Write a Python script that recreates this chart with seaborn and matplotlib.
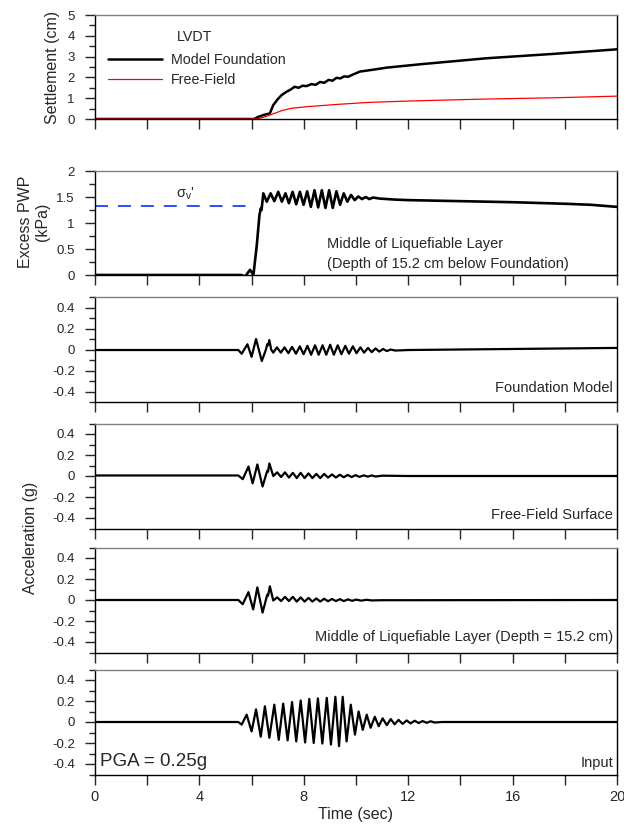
import matplotlib
matplotlib.use("Agg")
import matplotlib.pyplot as plt
import seaborn as sns
import numpy as np
import pandas as pd
from matplotlib.ticker import MultipleLocator

# ---- settlement (cm)
fnd_settle_t = [0, 6.1, 6.25, 6.45, 6.7, 6.83, 7.0, 7.15, 7.34, 7.5, 7.65, 7.8, 7.95, 8.1, 8.3,
                8.45, 8.62, 8.78, 8.95, 9.1, 9.25, 9.4, 9.55, 9.7, 9.85, 10.15, 10.6, 11.18,
                12.45, 15.0, 17.56, 20]
fnd_settle = [0, 0, 0.1, 0.19, 0.27, 0.67, 0.95, 1.15, 1.31, 1.42, 1.55, 1.5, 1.6, 1.58, 1.68,
              1.64, 1.78, 1.74, 1.88, 1.84, 1.98, 1.95, 2.05, 2.03, 2.12, 2.28, 2.36, 2.47,
              2.63, 2.92, 3.13, 3.35]
ff_settle_t = [0, 6.2, 6.45, 6.7, 7.15, 7.5, 8.1, 9.26, 10.5, 12.45, 15.0, 17.6, 20]
ff_settle = [0, 0, 0.08, 0.19, 0.4, 0.51, 0.59, 0.7, 0.8, 0.88, 0.96, 1.02, 1.1]

# ---- excess pore pressure (kPa)
pwp_t = [0, 5.6, 5.75, 5.94, 6.07, 6.2, 6.3, 6.35, 6.38, 6.45, 6.58, 6.73, 6.87, 7.02, 7.16,
         7.3, 7.43, 7.57, 7.71, 7.85, 7.99, 8.13, 8.27, 8.41, 8.55, 8.69, 8.83, 8.97, 9.11,
         9.25, 9.39, 9.53, 9.67, 9.81, 9.95, 10.09, 10.23, 10.37, 10.51, 10.65, 10.9, 11.5,
         12.0, 14.0, 16.0, 18.0, 19.0, 20.0]
pwp = [0, 0, -0.03, 0.1, 0.0, 0.58, 1.15, 1.28, 1.25, 1.57, 1.41, 1.57, 1.42, 1.6, 1.41,
       1.57, 1.38, 1.6, 1.36, 1.6, 1.35, 1.61, 1.31, 1.63, 1.3, 1.63, 1.29, 1.63, 1.29,
       1.61, 1.35, 1.57, 1.41, 1.54, 1.44, 1.51, 1.46, 1.5, 1.46, 1.49, 1.47, 1.45,
       1.44, 1.42, 1.40, 1.37, 1.35, 1.31]
sigma_v = 1.33
sigma_t = [0, 5.9]

# ---- accelerations (g), peaks and troughs
fnd_acc_t = [0, 5.49, 5.62, 5.84, 6.0, 6.17, 6.39, 6.55, 6.6, 6.63, 6.68, 6.75, 6.83, 6.97,
             7.12, 7.26, 7.41, 7.55, 7.7, 7.85, 7.99, 8.14, 8.28, 8.43, 8.57, 8.72, 8.86,
             9.01, 9.15, 9.3, 9.44, 9.59, 9.73, 9.88, 10.02, 10.17, 10.31, 10.46, 10.6,
             10.75, 10.89, 11.04, 11.18, 11.33, 11.5, 12.0, 14.0, 16.0, 18.0, 20.0]
fnd_acc = [-0.005, -0.005, -0.04, 0.05, -0.07, 0.1, -0.11, 0.0, 0.05, 0.04, 0.09, 0.0, -0.03,
           0.02, -0.03, 0.02, -0.035, 0.025, -0.04, 0.03, -0.045, 0.035, -0.05, 0.04, -0.05,
           0.04, -0.05, 0.045, -0.05, 0.04, -0.045, 0.035, -0.04, 0.03, -0.035, 0.02, -0.03,
           0.015, -0.025, 0.01, -0.02, 0.005, -0.015, 0.0, -0.01, -0.005, 0.0, 0.005, 0.01,
           0.015]

ffs_acc_t = [0, 5.49, 5.66, 5.88, 6.04, 6.22, 6.42, 6.6, 6.63, 6.68, 6.83, 6.98, 7.13, 7.28,
             7.43, 7.58, 7.73, 7.88, 8.03, 8.18, 8.33, 8.48, 8.63, 8.78, 8.93, 9.08, 9.23,
             9.38, 9.53, 9.68, 9.83, 9.98, 10.13, 10.3, 10.45, 10.6, 10.75, 11.0, 12.0, 20.0]
ffs_acc = [0.005, 0.005, -0.03, 0.09, -0.07, 0.11, -0.1, 0.05, 0.04, 0.12, 0.0, 0.035, -0.01,
           0.035, -0.015, 0.03, -0.02, 0.03, -0.02, 0.025, -0.02, 0.02, -0.02, 0.02, -0.015,
           0.015, -0.015, 0.012, -0.012, 0.01, -0.01, 0.008, -0.008, 0.006, -0.006, 0.005,
           -0.005, 0.003, 0.0, 0.0]

mid_acc_t = [0, 5.49, 5.66, 5.88, 6.06, 6.22, 6.42, 6.6, 6.63, 6.7, 6.83, 6.98, 7.13, 7.28,
             7.43, 7.58, 7.73, 7.88, 8.03, 8.18, 8.33, 8.48, 8.63, 8.78, 8.93, 9.08, 9.23,
             9.38, 9.53, 9.7, 9.85, 10.0, 10.2, 10.4, 10.6, 11.0, 12.0, 20.0]
mid_acc = [0.0, 0.0, -0.04, 0.075, -0.09, 0.12, -0.12, 0.05, 0.04, 0.13, -0.005, 0.025, -0.01,
           0.03, -0.01, 0.03, -0.015, 0.025, -0.015, 0.02, -0.015, 0.015, -0.015, 0.012,
           -0.012, 0.01, -0.01, 0.008, -0.01, 0.006, -0.008, 0.004, -0.006, 0.002, -0.004,
           -0.002, -0.002, 0.0]

inp_acc_t = [0, 5.49, 5.62, 5.81, 6.0, 6.17, 6.35, 6.51, 6.68, 6.87, 7.04, 7.21, 7.38, 7.55,
             7.71, 7.88, 8.05, 8.21, 8.38, 8.54, 8.71, 8.88, 9.04, 9.21, 9.35, 9.49, 9.64,
             9.8, 9.96, 10.1, 10.26, 10.41, 10.56, 10.72, 10.87, 11.02, 11.18, 11.33, 11.48,
             11.63, 11.79, 11.94, 12.09, 12.25, 12.4, 12.55, 12.71, 12.86, 13.01, 13.3, 20.0]
inp_acc = [0.0, 0.0, -0.025, 0.07, -0.09, 0.12, -0.14, 0.15, -0.15, 0.165, -0.17, 0.175,
           -0.175, 0.19, -0.185, 0.205, -0.195, 0.22, -0.2, 0.225, -0.205, 0.23, -0.215,
           0.24, -0.23, 0.24, -0.185, 0.165, -0.12, 0.1, -0.075, 0.07, -0.055, 0.05, -0.04,
           0.035, -0.03, 0.028, -0.022, 0.02, -0.018, 0.015, -0.013, 0.012, -0.01, 0.009,
           -0.008, 0.007, -0.005, 0.0, 0.0]

acc_labels = ["Foundation Model", "Free-Field Surface",
              "Middle of Liquefiable Layer (Depth = 15.2 cm)", "Input"]

sns.set_style("ticks")
plt.rcParams['font.family'] = ['Liberation Sans', 'DejaVu Sans']
plt.rcParams['mathtext.fontset'] = 'custom'
plt.rcParams['mathtext.rm'] = 'Liberation Sans'
plt.rcParams['mathtext.it'] = 'Liberation Sans:italic'
plt.rcParams['axes.linewidth'] = 1.0
plt.rcParams['axes.edgecolor'] = 'black'
plt.rcParams['lines.solid_joinstyle'] = 'round'
plt.rcParams['lines.solid_capstyle'] = 'round'

fig = plt.figure(figsize=(6.24, 8.27), dpi=100)
H = 827.0
left, width = 95 / 624, 522 / 624
tops = [15, 171, 297, 423.5, 547.5, 669.5]
bots = [119, 275, 402, 528.5, 652.5, 774.5]
axes = [fig.add_axes([left, 1 - b / H, width, (b - t) / H]) for t, b in zip(tops, bots)]

for ax in axes:
    ax.set_xlim(0, 20)
    ax.xaxis.set_major_locator(MultipleLocator(4))
    ax.xaxis.set_minor_locator(MultipleLocator(2))
    ax.tick_params(axis='x', which='both', direction='out', length=7, width=1, top=False,
                   labelbottom=False, labelsize=10.5, pad=4)
    ax.tick_params(axis='y', which='major', direction='out', length=7.5, width=1,
                   labelsize=9.5, pad=7, right=False)
    ax.tick_params(axis='y', which='minor', direction='out', length=4.5, width=1, right=False)
    ax.spines['top'].set_color('#808080')

# settlement
ax1 = axes[0]
sns.lineplot(x=fnd_settle_t, y=fnd_settle, ax=ax1, color="black", linewidth=1.8,
             label="Model Foundation", sort=False, estimator=None)
sns.lineplot(x=ff_settle_t, y=ff_settle, ax=ax1, color="#ff0000", linewidth=0.9,
             label="Free-Field", sort=False, estimator=None)
ax1.set_ylim(0, 5)
ax1.yaxis.set_major_locator(MultipleLocator(1))
ax1.yaxis.set_minor_locator(MultipleLocator(0.5))
ax1.yaxis.set_major_formatter(matplotlib.ticker.FormatStrFormatter('%g'))
ax1.legend(frameon=False, loc="center left", bbox_to_anchor=(0.025, 0.471),
           handlelength=3.8, handletextpad=0.6, labelspacing=0.45, fontsize=10.3,
           borderaxespad=0, borderpad=0)
ax1.text(0.19, 0.788, "LVDT", transform=ax1.transAxes, fontsize=10.3, ha="center",
         va="center")
ax1.set_xlabel("")
ax1.set_ylabel("")

# excess pore pressure
ax2 = axes[1]
sns.lineplot(x=pwp_t, y=pwp, ax=ax2, color="black", linewidth=1.9, sort=False, estimator=None)
ax2.plot(sigma_t, [sigma_v, sigma_v], color="#1f3fff", linewidth=1.3, dashes=(7.2, 5.5))
ax2.text(3.45, sigma_v + 0.07, r"σ$_\mathrm{v}$'", fontsize=10.5, ha="center", va="bottom")
ax2.set_ylim(0, 2)
ax2.yaxis.set_major_locator(MultipleLocator(0.5))
ax2.yaxis.set_minor_locator(MultipleLocator(0.25))
ax2.yaxis.set_major_formatter(matplotlib.ticker.FormatStrFormatter('%g'))
ax2.text(0.444, 0.30, "Middle of Liquefiable Layer", transform=ax2.transAxes,
         fontsize=10.5, ha="left", va="center")
ax2.text(0.444, 0.105, "(Depth of 15.2 cm below Foundation)", transform=ax2.transAxes,
         fontsize=10.5, ha="left", va="center")
ax2.set_xlabel("")
ax2.set_ylabel("")

# accelerations
acc_series = [(fnd_acc_t, fnd_acc), (ffs_acc_t, ffs_acc), (mid_acc_t, mid_acc),
              (inp_acc_t, inp_acc)]
label_y = [0.133, 0.124, 0.143, 0.114]
for ax, (t, a), lab, ly in zip(axes[2:], acc_series, acc_labels, label_y):
    sns.lineplot(x=t, y=a, ax=ax, color="black", linewidth=1.6, sort=False, estimator=None)
    ax.set_ylim(-0.5, 0.5)
    ax.set_yticks([-0.4, -0.2, 0, 0.2, 0.4])
    ax.set_yticklabels(["-0.4", "-0.2", "0", "0.2", "0.4"])
    ax.yaxis.set_minor_locator(matplotlib.ticker.FixedLocator([-0.5, -0.3, -0.1, 0.1, 0.3, 0.5]))
    ax.text(0.993, ly, lab, transform=ax.transAxes, fontsize=10.5, ha="right", va="center")
    ax.set_xlabel("")
    ax.set_ylabel("")

ax6 = axes[5]
ax6.tick_params(axis='x', labelbottom=True)
ax6.text(0.01, 0.12, "PGA = 0.25g", transform=ax6.transAxes, fontsize=13.5,
         ha="left", va="center")

fig.text(52 / 624, 1 - 67 / H, "Settlement (cm)", rotation=90, fontsize=11.5,
         ha="center", va="center")
fig.text(34 / 624, 1 - 222 / H, "Excess PWP\n(kPa)", rotation=90, fontsize=11.5,
         ha="center", va="center", multialignment="center", linespacing=1.1)
fig.text(30 / 624, 1 - 538 / H, "Acceleration (g)", rotation=90, fontsize=11.5,
         ha="center", va="center")
fig.text(355 / 624, 1 - 815 / H, "Time (sec)", fontsize=11.5, ha="center", va="center")

fig.savefig("out.png", dpi=100)
